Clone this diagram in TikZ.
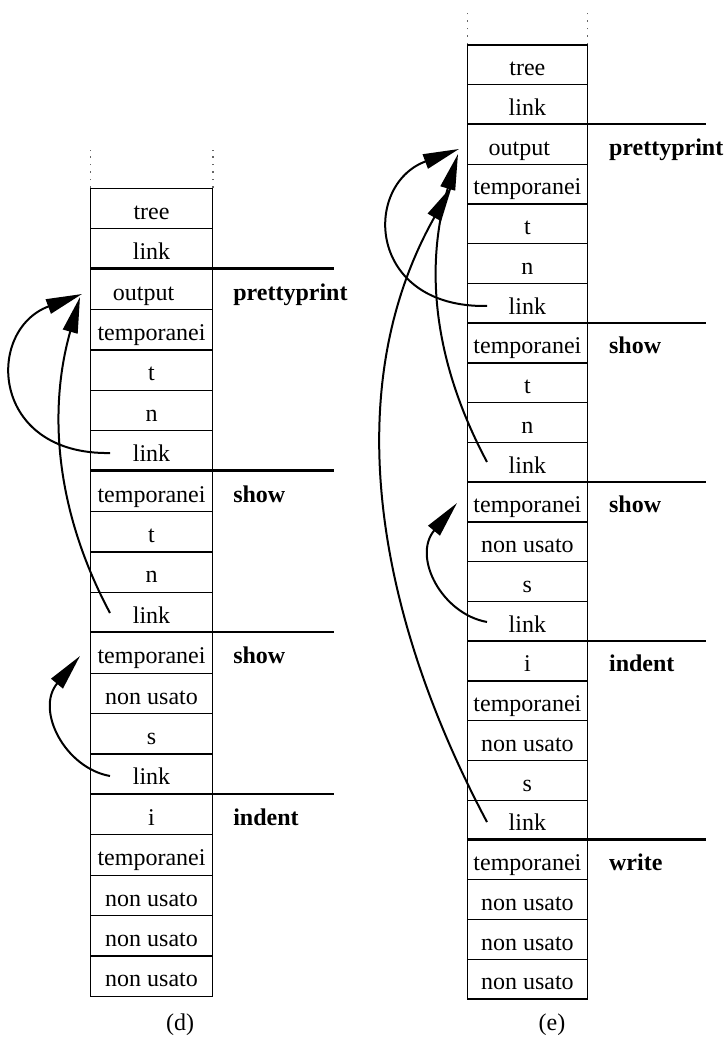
\documentclass[tikz,border=0pt]{standalone}
\usepackage{fontspec}
\setmainfont{Liberation Serif}
\usetikzlibrary{arrows.meta,calc}
\begin{document}
\begin{tikzpicture}[x=0.5pt,y=-0.5pt,
  txt/.style={inner sep=0pt, text height=10.8pt, text depth=0pt, font=\fontsize{12}{14}\selectfont},
  dcell/.style={txt, draw, line width=0.6pt, minimum width=60.8pt, minimum height=20.2pt},
  ecell/.style={txt, draw, line width=0.6pt, minimum width=59.7pt, minimum height=19.875pt},
  sep/.style={line width=1.1pt},
  lbl/.style={txt, anchor=west, font=\fontsize{12}{14}\selectfont\bfseries},
  captext/.style={inner sep=0pt, anchor=base, font=\fontsize{12}{14}\selectfont},
  dots/.style={line width=0.6pt, black!60, dash pattern=on 0.8pt off 2.95pt},
  ptr/.style={line width=1pt, -{Triangle[length=18pt,width=7.5pt]}}]
\useasboundingbox (0,0) rectangle (724,1040);

% stack (d)
\foreach \t [count=\i] in {tree,link,output\kern8pt,temporanei,t,n,link,temporanei,t,n,link,temporanei,non usato,s,link,i,temporanei,non usato,non usato,non usato}
  \node[dcell] (d\i) at (151.5,{188.3+(\i-0.5)*40.4}) {\t};
\draw[dots] (d1.north west) -- ++(0,-38);
\draw[dots] (d1.north east) -- ++(0,-38);
\foreach \k in {3,8,12,16}
  \draw[sep] (d\k.north west) -- ++(243.5,0);
\node[lbl] (dpp) at ($(d3.east)+(20,0)$) {prettyprint};
\node[lbl] (dsh1) at ($(d8.east)+(20,0)$) {show};
\node[lbl] (dsh2) at ($(d12.east)+(20,0)$) {show};
\node[lbl] (din) at ($(d16.east)+(20,0)$) {indent};
\node[captext] (capd) at (180,1030) {(d)};

% stack (e)
\foreach \t [count=\i] in {tree,link,output\kern8pt,temporanei,t,n,link,temporanei,t,n,link,temporanei,non usato,s,link,i,temporanei,non usato,s,link,temporanei,non usato,non usato,non usato}
  \node[ecell] (e\i) at (527.4,{45+(\i-0.5)*39.75}) {\t};
\draw[dots] (e1.north west) -- ++(0,-36);
\draw[dots] (e1.north east) -- ++(0,-36);
\foreach \k in {3,8,12,16,21}
  \draw[sep] (e\k.north west) -- ++(239.3,0);
\node[lbl] (epp) at ($(e3.east)+(21,0)$) {prettyprint};
\node[lbl] (esh1) at ($(e8.east)+(21,0)$) {show};
\node[lbl] (esh2) at ($(e12.east)+(21,0)$) {show};
\node[lbl] (ein) at ($(e16.east)+(21,0)$) {indent};
\node[lbl] (ewr) at ($(e21.east)+(21,0)$) {write};
\node[captext] (cape) at (552,1030) {(e)};

% link pointers in (d)
\coordinate (dA1s) at ($(d7.center)+(-41.5,2.1)$);
\coordinate (dA1t) at ($(d3.center)+(-69.5,4.7)$);
\coordinate (dA2s) at ($(d11.center)+(-41.5,0.5)$);
\coordinate (dA2t) at ($(d3.center)+(-71.5,7.7)$);
\coordinate (dA3s) at ($(d15.center)+(-41.5,1.9)$);
\coordinate (dA3t) at ($(d12.center)+(-71.5,3.1)$);
\draw[ptr] (dA1s) .. controls +(-120,2) and +(-97,36) .. (dA1t);
\draw[ptr] (dA2s) .. controls +(-55,-103) and +(-32,113) .. (dA2t);
\draw[ptr] (dA3s) .. controls +(-45,-8) and +(-45,54) .. (dA3t);

% link pointers in (e)
\coordinate (eA1s) at ($(e7.center)+(-40.4,2.6)$);
\coordinate (eA1t) at ($(e3.center)+(-68.4,4.6)$);
\coordinate (eA2s) at ($(e11.center)+(-40.4,-0.4)$);
\coordinate (eA2t) at ($(e3.center)+(-69.4,9.6)$);
\coordinate (eA3s) at ($(e15.center)+(-40.4,0.6)$);
\coordinate (eA3t) at ($(e12.center)+(-70.4,0.9)$);
\coordinate (eA4s) at ($(e20.center)+(-40.4,1.9)$);
\coordinate (eA4t) at ($(e4.center)+(-75.4,1.9)$);
\draw[ptr] (eA1s) .. controls +(-120,2) and +(-97,36) .. (eA1t);
\draw[ptr] (eA2s) .. controls +(-55,-103) and +(-33,111) .. (eA2t);
\draw[ptr] (eA3s) .. controls +(-45,-8) and +(-45,54) .. (eA3t);
\draw[ptr] (eA4s) .. controls +(-110,-207) and +(-115,204) .. (eA4t);
\end{tikzpicture}
\end{document}
